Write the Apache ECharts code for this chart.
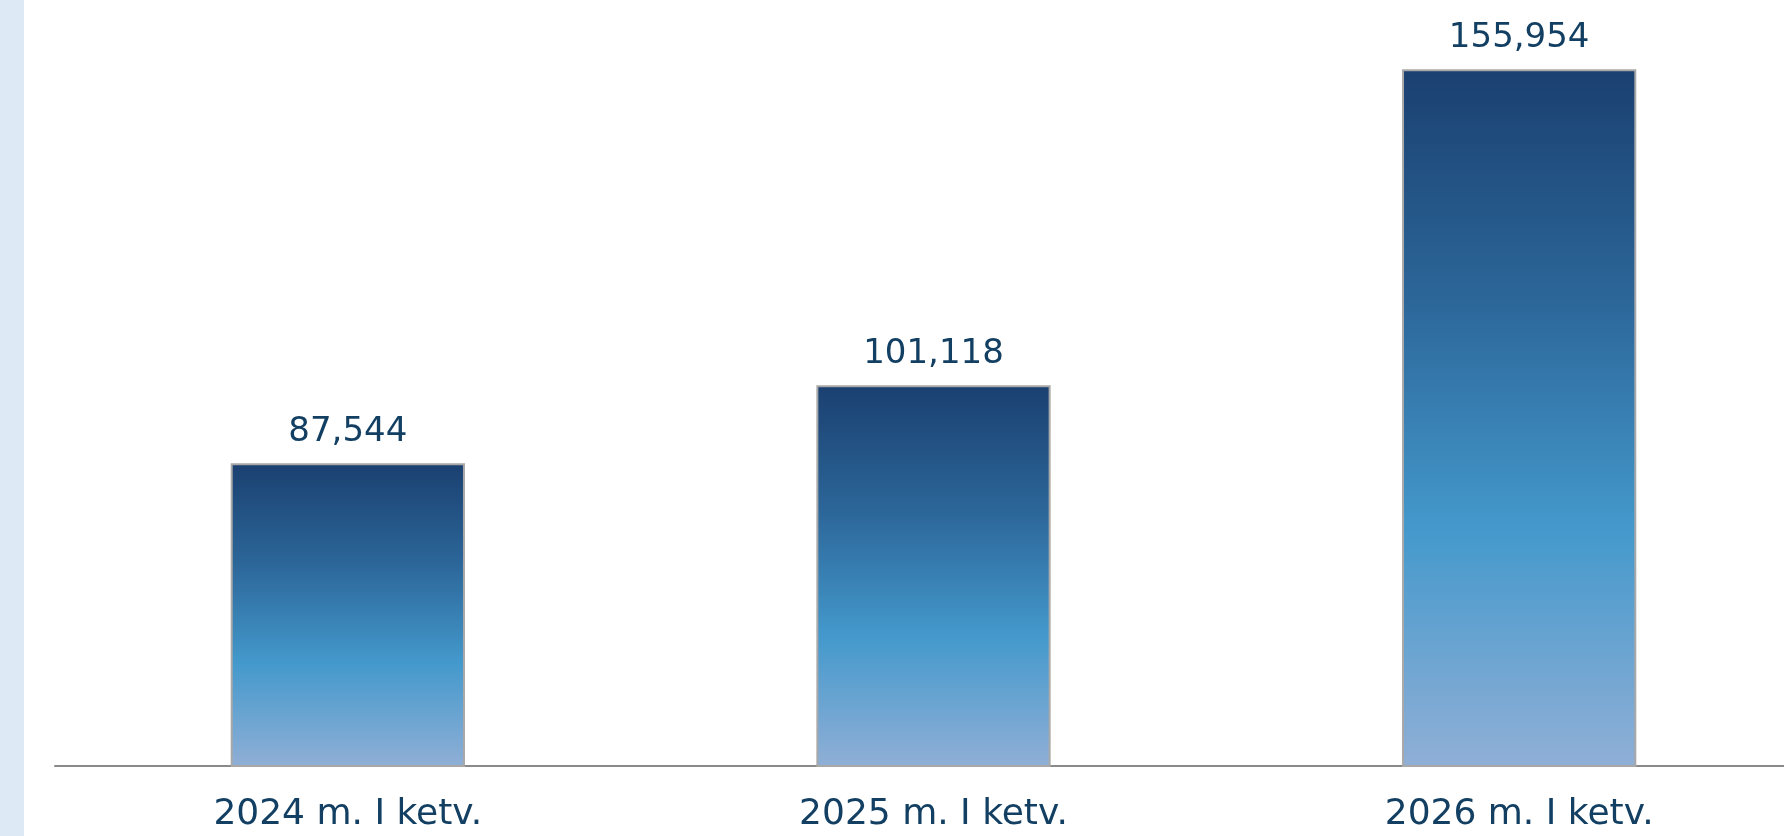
<!DOCTYPE html>
<html>
<head>
<meta charset="utf-8">
<script src="https://cdn.jsdelivr.net/npm/echarts@6/dist/echarts.min.js"></script>
<style>
html,body{margin:0;padding:0;background:#fff;}
#chart{width:1784px;height:836px;}
</style>
</head>
<body>
<div id="chart"></div>
<script>
const categories = ['2024 m. I ketv.', '2025 m. I ketv.', '2026 m. I ketv.'];
const values = [87544, 101118, 155954];

const chart = echarts.init(document.getElementById('chart'));
const textColor = '#123f62';
chart.setOption({
  animation: false,
  backgroundColor: '#ffffff',
  graphic: [{
    type: 'rect', left: 0, top: 0,
    shape: { width: 24, height: 836 },
    style: { fill: '#dde9f4' }, z: -1
  }],
  grid: { left: 55, top: 46, width: 1757, height: 720, containLabel: false, outerBoundsMode: 'none' },
  xAxis: {
    type: 'category',
    data: categories,
    axisLine: { lineStyle: { color: '#8a8a8a', width: 2 } },
    axisTick: { show: false },
    axisLabel: {
      color: textColor, fontSize: 36, fontFamily: 'DejaVu Sans', margin: 31
    }
  },
  yAxis: {
    type: 'value', min: 35000, max: 160000, show: false,
    splitLine: { show: false }
  },
  series: [{
    type: 'bar',
    data: values,
    barWidth: '40%',
    itemStyle: {
      borderColor: '#a8a8a8', borderWidth: 2,
      color: new echarts.graphic.LinearGradient(0, 0, 0, 1, [
        { offset: 0, color: '#1a4070' },
        { offset: 0.33, color: '#2c6699' },
        { offset: 0.66, color: '#4499cc' },
        { offset: 1, color: '#90afd6' }
      ])
    },
    label: {
      show: true, position: 'top', distance: 14,
      color: textColor, fontSize: 34, fontFamily: 'DejaVu Sans',
      formatter: p => p.value.toLocaleString('en-US')
    }
  }]
});
</script>
</body>
</html>
